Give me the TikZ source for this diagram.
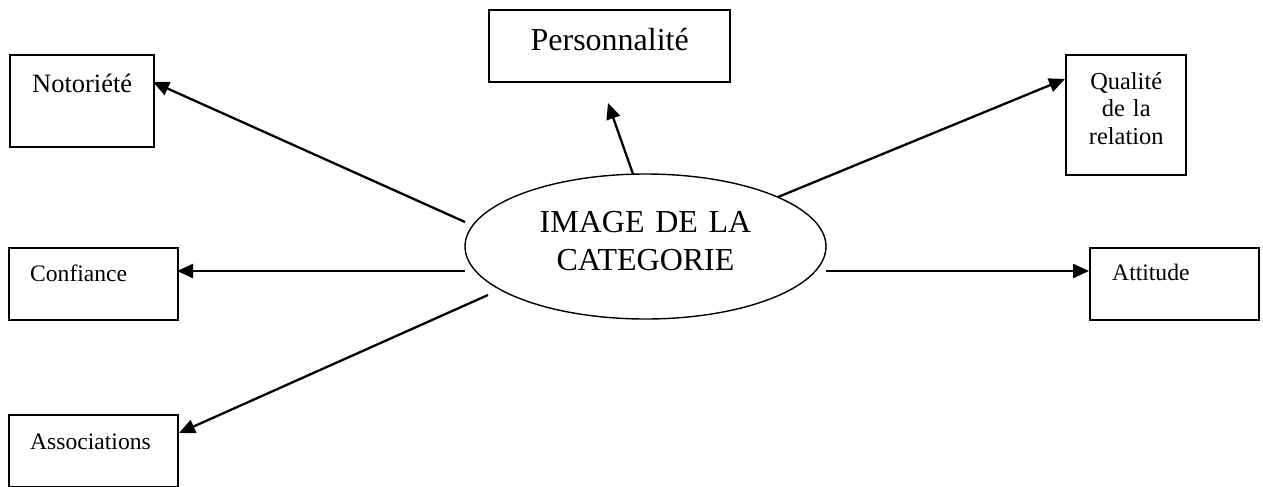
\documentclass[tikz,border=0pt]{standalone}
\usepackage{fontspec}
\setmainfont{Liberation Serif}
\usetikzlibrary{arrows.meta,shapes.geometric}
\begin{document}
\begin{tikzpicture}[x=0.5pt,y=-0.5pt,
  box/.style={draw,line width=1.2pt,inner sep=0pt,anchor=north west},
  leftbox/.style={box,inner xsep=10.5pt,inner ysep=0pt,text width=63.5pt,align=left},
  conn/.style={line width=1.15pt,-{Triangle[length=8pt,width=7pt]}},
  smallfont/.style={font=\fontsize{11.8}{13.75}\selectfont},
  midfont/.style={font=\fontsize{13.25}{15}\selectfont},
  bigfont/.style={font=\fontsize{16}{19}\selectfont}]
\useasboundingbox (0,0) rectangle (1263,487);

% boxes
\node[box,midfont,text width=72pt,align=center,text height=18.5pt,text depth=27.5pt] (noto) at (9,54) {Notoriété};
\node[box,bigfont,text width=120.5pt,align=center,text height=20pt,text depth=16pt] (perso) at (488,9) {Personnalité};
\node[box,font=\fontsize{12.2}{13.75}\selectfont,text width=60pt,align=center,text height=17pt,text depth=43pt] (qual) at (1065,54) {Qualité\\de la\\relation};
\node[leftbox,smallfont,text height=16.5pt,text depth=19.5pt] (conf) at (8,247) {Confiance};
\node[leftbox,smallfont,text height=17pt,text depth=19pt] (assoc) at (8,414) {Associations};
\node[leftbox,smallfont,inner xsep=11pt,text width=62.5pt,text height=16pt,text depth=20pt] (att) at (1089,247) {Attitude};

% central ellipse
\node[ellipse,draw,line width=0.7pt,minimum width=180.5pt,minimum height=72.5pt,inner sep=0pt,
  text width=110pt,align=center,text height=10pt,text depth=24.5pt,bigfont] (img) at (645.5,246.5) {IMAGE DE LA\\CATEGORIE};

% connector ends
\coordinate (s1) at (465,222); \coordinate (t1) at (153,82);
\coordinate (s2) at (633,174); \coordinate (t2) at (608,103);
\coordinate (s3) at (778,197); \coordinate (t3) at (1065,79);
\coordinate (s4) at (465,271); \coordinate (t4) at (177,271);
\coordinate (s5) at (826,271); \coordinate (t5) at (1089,271);
\coordinate (s6) at (488,295); \coordinate (t6) at (179,433);

\draw[conn] (s1) -- (t1);
\draw[conn] (s2) -- (t2);
\draw[conn] (s3) -- (t3);
\draw[conn] (s4) -- (t4);
\draw[conn] (s5) -- (t5);
\draw[conn] (s6) -- (t6);
\end{tikzpicture}
\end{document}
